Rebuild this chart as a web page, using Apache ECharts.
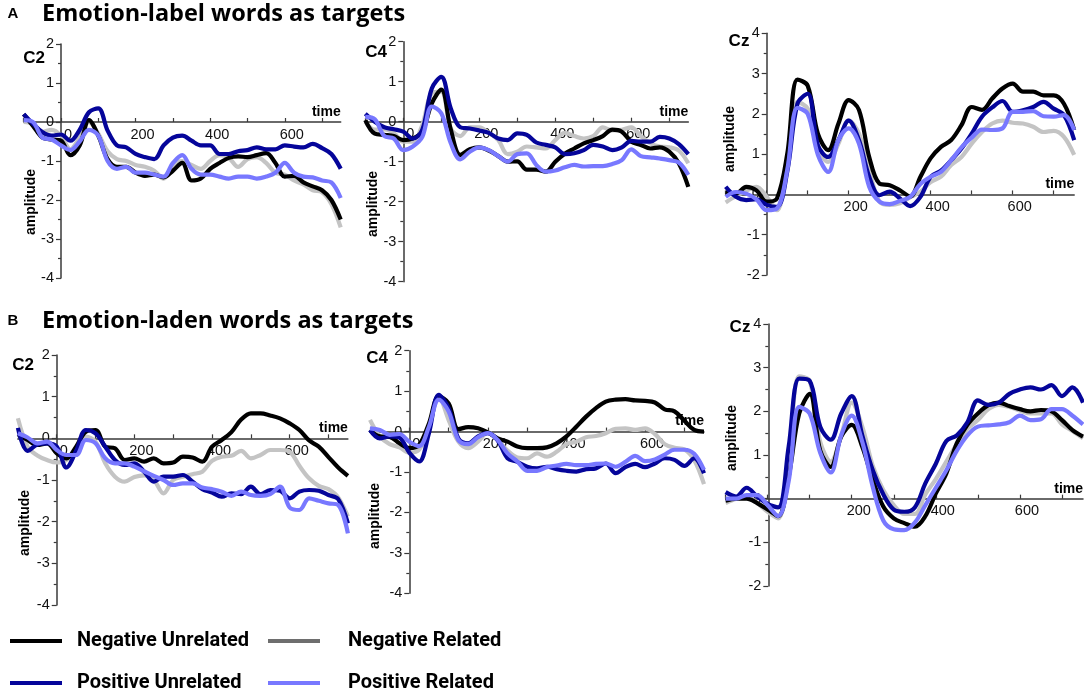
<!DOCTYPE html>
<html>
<head>
<meta charset="utf-8">
<title>ERP waveforms</title>
<script src="https://cdn.jsdelivr.net/npm/echarts@6/dist/echarts.min.js"></script>
<style>
    html, body { margin: 0; padding: 0; background: #fff; }
    #erp_waves { width: 1084px; height: 692px; }
</style>
</head>
<body>
<div id="erp_waves"></div>
<script>

// Data
// ------------------------------

// Time points (ms)
var times = [-100, -75, -50, -25, 0, 25, 50, 75, 100, 125, 150, 175, 200, 225, 250, 275, 300, 325,
    350, 375, 400, 425, 450, 475, 500, 525, 550, 575, 600, 625, 650, 675, 700, 725, 750];

var conditions = ['Negative Unrelated', 'Positive Unrelated', 'Negative Related', 'Positive Related'];

// A - emotion-label words, C2
var aC2NegUnrel = [0.2, -0.1, -0.4, -0.45, -0.48, -0.85, -0.6, 0.05, -0.35, -0.95, -1.15, -1.15, -1.3, -1.38, -1.35, -1.42, -1.25, -1.05, -1.5, -1.45, -1.2, -1.05, -0.92, -0.88, -0.9, -0.85, -0.8, -1.05, -1.4, -1.38, -1.55, -1.65, -1.75, -2.0, -2.5];
var aC2PosUnrel = [0.2, -0.05, -0.26, -0.35, -0.32, -0.48, -0.2, 0.25, 0.35, -0.22, -0.6, -0.65, -0.82, -0.9, -0.95, -0.6, -0.4, -0.35, -0.48, -0.6, -0.6, -0.82, -0.82, -0.75, -0.72, -0.65, -0.7, -0.7, -0.6, -0.63, -0.65, -0.56, -0.67, -0.82, -1.2];
var aC2NegRel = [0.0, -0.05, -0.25, -0.2, -0.35, -0.7, -0.4, 0.0, -0.3, -0.75, -0.95, -1.0, -1.1, -1.15, -1.25, -1.45, -1.1, -1.0, -1.1, -1.2, -1.0, -0.85, -0.92, -1.15, -0.95, -0.9, -1.05, -1.3, -1.35, -1.5, -1.6, -1.75, -1.8, -2.1, -2.7];
var aC2PosRel = [0.05, 0.0, -0.4, -0.45, -0.6, -0.72, -0.5, -0.2, -0.35, -1.0, -1.2, -1.15, -1.3, -1.3, -1.35, -1.4, -1.05, -0.85, -1.2, -1.35, -1.35, -1.4, -1.45, -1.4, -1.4, -1.45, -1.4, -1.3, -1.05, -1.3, -1.4, -1.42, -1.5, -1.55, -1.95];

// A - emotion-label words, C4
var aC4NegUnrel = [0.04, -0.3, -0.33, -0.36, -0.46, -0.42, -0.25, 0.46, 0.8, -0.2, -0.83, -0.69, -0.64, -0.72, -0.86, -1.0, -0.99, -1.2, -1.2, -1.25, -1.0, -0.8, -0.67, -0.54, -0.46, -0.36, -0.2, -0.25, -0.5, -0.58, -0.67, -0.64, -0.75, -1.04, -1.63];
var aC4PosUnrel = [0.2, 0.0, -0.14, -0.19, -0.25, -0.42, -0.2, 0.83, 1.12, 0.33, -0.14, -0.17, -0.22, -0.28, -0.42, -0.46, -0.29, -0.33, -0.52, -0.58, -0.64, -0.81, -0.79, -0.71, -0.58, -0.62, -0.71, -0.64, -0.48, -0.5, -0.5, -0.38, -0.42, -0.56, -0.81];
var aC4NegRel = [0.0, -0.2, -0.19, -0.28, -0.5, -0.5, -0.08, 0.71, 0.75, -0.17, -0.36, -0.14, -0.14, -0.28, -0.46, -0.81, -0.75, -0.62, -0.64, -0.67, -0.46, -0.28, -0.36, -0.42, -0.36, -0.14, -0.22, -0.2, -0.14, -0.36, -0.54, -0.62, -0.64, -0.72, -1.04];
var aC4PosRel = [0.12, 0.06, -0.36, -0.42, -0.71, -0.62, -0.38, 0.38, 0.21, -0.54, -0.94, -0.75, -0.64, -0.71, -0.86, -1.0, -0.81, -0.79, -1.08, -1.25, -1.22, -1.14, -1.08, -1.12, -1.11, -1.11, -1.06, -0.96, -0.69, -0.86, -0.89, -0.92, -0.96, -1.02, -1.33];

// A - emotion-label words, Cz
var aCzNegUnrel = [0.05, 0.02, 0.19, 0.1, -0.18, -0.1, 1.0, 2.85, 2.7, 1.5, 1.1, 1.76, 2.34, 2.1, 0.93, 0.27, 0.23, 0.1, -0.05, 0.44, 0.9, 1.18, 1.35, 1.72, 2.17, 2.1, 2.38, 2.63, 2.75, 2.55, 2.55, 2.46, 2.46, 2.25, 1.6];
var aCzPosUnrel = [0.19, -0.06, -0.14, -0.12, -0.26, -0.31, 0.56, 2.25, 2.5, 1.22, 0.93, 1.35, 1.83, 1.35, 0.44, -0.02, 0.07, -0.1, -0.29, -0.06, 0.44, 0.59, 0.85, 1.14, 1.51, 1.93, 2.16, 2.32, 2.05, 2.09, 2.17, 2.3, 2.13, 1.97, 1.35];
var aCzNegRel = [-0.2, -0.04, 0.09, 0.19, -0.06, -0.39, 0.77, 2.3, 2.13, 1.18, 0.81, 1.26, 1.84, 1.51, 0.6, -0.18, -0.26, -0.22, -0.07, 0.07, 0.31, 0.44, 0.73, 0.93, 1.26, 1.55, 1.76, 1.83, 1.78, 1.76, 1.68, 1.55, 1.58, 1.43, 0.98];
var aCzPosRel = [-0.06, 0.06, 0.02, -0.12, -0.39, -0.35, 0.6, 2.15, 2.0, 0.98, 0.56, 1.35, 1.64, 1.26, 0.19, -0.18, -0.24, -0.16, -0.06, 0.26, 0.44, 0.56, 0.85, 1.17, 1.41, 1.61, 1.6, 1.64, 2.05, 2.05, 2.07, 1.94, 1.93, 1.97, 1.6];

// B - emotion-laden words, C2
var bC2NegUnrel = [0.1, -0.04, -0.16, -0.12, -0.36, -0.48, -0.2, 0.16, 0.2, -0.2, -0.24, -0.52, -0.48, -0.56, -0.48, -0.6, -0.58, -0.44, -0.46, -0.56, -0.2, -0.04, 0.15, 0.45, 0.6, 0.6, 0.55, 0.48, 0.36, 0.2, -0.05, -0.2, -0.45, -0.7, -0.9];
var bC2PosUnrel = [0.25, -0.3, -0.15, -0.12, -0.2, -0.7, -0.3, 0.2, 0.12, -0.2, -0.52, -0.64, -0.6, -0.8, -1.04, -0.92, -0.92, -0.88, -1.04, -1.22, -1.3, -1.4, -1.32, -1.34, -1.16, -1.34, -1.24, -1.26, -1.44, -1.28, -1.24, -1.26, -1.36, -1.46, -2.04];
var bC2NegRel = [0.48, -0.2, -0.41, -0.52, -0.58, -0.52, -0.25, 0.04, -0.08, -0.6, -0.92, -1.04, -0.93, -0.89, -1.0, -1.32, -1.0, -0.92, -0.86, -0.8, -0.54, -0.44, -0.42, -0.3, -0.48, -0.4, -0.28, -0.28, -0.32, -0.66, -0.96, -1.14, -1.22, -1.42, -1.88];
var bC2PosRel = [0.12, 0.02, -0.12, -0.08, -0.28, -0.4, -0.4, -0.04, -0.12, -0.48, -0.6, -0.6, -0.68, -0.79, -0.9, -1.0, -1.12, -1.08, -1.08, -1.18, -1.22, -1.28, -1.38, -1.28, -1.36, -1.38, -1.34, -1.16, -1.66, -1.72, -1.44, -1.5, -1.56, -1.6, -2.28];

// B - emotion-laden words, C4
var bC4NegUnrel = [0.04, -0.12, -0.13, -0.29, -0.41, -0.33, 0.2, 0.87, 0.7, 0.06, 0.11, 0.08, -0.02, -0.17, -0.25, -0.37, -0.41, -0.41, -0.39, -0.29, -0.12, 0.12, 0.37, 0.58, 0.74, 0.79, 0.8, 0.77, 0.76, 0.72, 0.55, 0.5, 0.27, 0.04, 0.0];
var bC4PosUnrel = [0.04, -0.17, -0.12, -0.15, -0.52, -0.74, -0.04, 0.91, 0.58, -0.17, -0.29, -0.12, -0.04, -0.22, -0.66, -0.75, -0.87, -0.91, -0.87, -0.93, -0.97, -0.99, -0.93, -0.91, -0.79, -1.03, -0.88, -0.8, -0.88, -0.79, -0.66, -0.7, -0.85, -0.66, -1.03];
var bC4NegRel = [0.29, -0.12, -0.31, -0.39, -0.52, -0.45, 0.12, 0.87, 0.29, -0.25, -0.41, -0.25, -0.02, -0.21, -0.47, -0.64, -0.66, -0.54, -0.62, -0.5, -0.31, -0.25, -0.14, -0.11, -0.04, 0.07, 0.08, 0.04, 0.08, -0.06, -0.31, -0.4, -0.44, -0.7, -1.3];
var bC4PosRel = [0.08, 0.04, -0.08, -0.06, -0.25, -0.36, 0.12, 0.79, 0.5, -0.21, -0.31, -0.14, -0.04, -0.21, -0.54, -0.74, -0.97, -0.97, -0.88, -0.84, -0.8, -0.83, -0.83, -0.8, -0.79, -0.87, -0.75, -0.6, -0.73, -0.69, -0.57, -0.45, -0.45, -0.55, -0.95];

// B - emotion-laden words, Cz
var bCzNegUnrel = [-0.05, 0.0, 0.0, -0.1, -0.25, -0.4, 0.5, 1.95, 2.4, 1.1, 0.73, 1.42, 1.69, 1.19, 0.43, -0.18, -0.45, -0.56, -0.64, -0.4, 0.12, 0.58, 1.27, 1.69, 1.95, 2.14, 2.2, 2.12, 2.05, 2.0, 2.03, 2.0, 1.8, 1.57, 1.42];
var bCzPosUnrel = [0.15, 0.05, 0.25, 0.05, -0.12, -0.2, 1.19, 2.75, 2.7, 1.65, 1.35, 1.95, 2.35, 1.45, 0.65, 0.1, -0.25, -0.3, -0.2, 0.35, 0.8, 1.32, 1.45, 1.75, 2.25, 2.15, 2.2, 2.4, 2.5, 2.55, 2.5, 2.6, 2.35, 2.55, 2.2];
var bCzNegRel = [-0.1, 0.0, 0.05, -0.1, -0.3, -0.45, 0.8, 2.8, 2.7, 1.3, 0.85, 1.45, 2.2, 1.65, 0.75, 0.2, -0.15, -0.35, -0.35, 0.1, 0.45, 0.85, 1.25, 1.6, 1.8, 2.05, 2.15, 2.1, 2.02, 1.95, 1.95, 1.95, 1.7, 1.55, 1.38];
var bCzPosRel = [0.0, 0.0, 0.08, 0.08, -0.15, -0.4, 0.4, 2.1, 1.95, 1.05, 0.6, 1.45, 1.9, 1.3, 0.27, -0.5, -0.7, -0.72, -0.55, -0.15, 0.25, 0.65, 1.1, 1.45, 1.65, 1.68, 1.7, 1.75, 1.9, 1.8, 1.82, 2.05, 2.05, 1.9, 1.7];


// Setup module
// ------------------------------

var EchartsErpWaves = function() {

    var _erpWavesExample = function() {
        if (typeof echarts == 'undefined') {
            console.warn('Warning - echarts.min.js is not loaded.');
            return;
        }

        var erp_waves_element = document.getElementById('erp_waves');
        if (!erp_waves_element) {
            return;
        }

        var erp_waves = echarts.init(erp_waves_element);

        var tickFont = '"Liberation Sans", Arial, sans-serif';
        var headFont = '"Open Sans", Lato, Arial, sans-serif';
        var legendFont = 'Roboto, "Liberation Sans", Arial, sans-serif';
        var axisColor = '#3a3a3a';
        var tMin = -100, tMax = 750;

        var colors = {
            'Negative Unrelated': '#000000',
            'Positive Unrelated': '#05059a',
            'Negative Related': '#c4c4c4',
            'Positive Related': '#7878ff'
        };
        var layers = {
            'Negative Related': 2,
            'Negative Unrelated': 3,
            'Positive Unrelated': 4,
            'Positive Related': 5
        };

        // Panel layout
        var panels = [
            { title: 'C2', lines: [aC2NegUnrel, aC2PosUnrel, aC2NegRel, aC2PosRel], yMin: -4, yMax: 2, zeroLabel: true,
              grid: { left: 23.7, top: 44, width: 317, height: 234 }, titlePos: [34, 58], ampPos: [31, 202] },
            { title: 'C4', lines: [aC4NegUnrel, aC4PosUnrel, aC4NegRel, aC4PosRel], yMin: -4, yMax: 2, zeroLabel: true,
              grid: { left: 365.3, top: 41.7, width: 323, height: 240 }, titlePos: [376, 52], ampPos: [373, 204] },
            { title: 'Cz', lines: [aCzNegUnrel, aCzPosUnrel, aCzNegRel, aCzPosRel], yMin: -2, yMax: 4, zeroLabel: false,
              grid: { left: 725.7, top: 33.3, width: 348.5, height: 241.7 }, titlePos: [739, 41], ampPos: [730, 139] },
            { title: 'C2', lines: [bC2NegUnrel, bC2PosUnrel, bC2NegRel, bC2PosRel], yMin: -4, yMax: 2, zeroLabel: true,
              grid: { left: 17.9, top: 355, width: 330, height: 250 }, titlePos: [23, 365], ampPos: [25, 523] },
            { title: 'C4', lines: [bC4NegUnrel, bC4PosUnrel, bC4NegRel, bC4PosRel], yMin: -4, yMax: 2, zeroLabel: true,
              grid: { left: 370, top: 350.7, width: 334, height: 242.6 }, titlePos: [377, 358], ampPos: [375, 516] },
            { title: 'Cz', lines: [bCzNegUnrel, bCzPosUnrel, bCzNegRel, bCzPosRel], yMin: -2, yMax: 4, zeroLabel: false,
              grid: { left: 725.6, top: 324, width: 363, height: 262 }, titlePos: [740, 327], ampPos: [732, 438] }
        ];

        var grids = [], xAxes = [], yAxes = [], series = [], graphics = [];

        panels.forEach(function(p, i) {
            grids.push(p.grid);

            // Axes cross at (0 ms, 0 uV): shift them inside the grid by the scale fraction
            var xShift = -p.grid.height * (0 - p.yMin) / (p.yMax - p.yMin);
            var yShift = -p.grid.width * (0 - tMin) / (tMax - tMin);

            xAxes.push({
                type: 'value',
                gridIndex: i,
                position: 'bottom',
                offset: xShift,
                min: tMin,
                max: tMax,
                interval: 100,
                name: 'time',
                nameLocation: 'end',
                nameGap: 0,
                nameTextStyle: {
                    color: '#000',
                    fontFamily: tickFont,
                    fontWeight: 'bold',
                    fontSize: 14,
                    align: 'right',
                    verticalAlign: 'bottom',
                    padding: [0, 0, 3, 0]
                },
                axisLine: {
                    onZero: false,
                    lineStyle: { color: axisColor, width: 1.5 }
                },
                axisTick: {
                    inside: true,
                    length: 4,
                    lineStyle: { color: axisColor, width: 1.2 }
                },
                splitLine: { show: false },
                axisLabel: {
                    color: '#111',
                    fontFamily: tickFont,
                    fontSize: 14.5,
                    margin: 5,
                    padding: [0, 0, 0, 14],
                    showMaxLabel: false,
                    formatter: function(v) {
                        if (v === 200 || v === 400 || v === 600) return String(v);
                        if (v === 0 && p.zeroLabel) return '0';
                        return '';
                    }
                }
            });

            yAxes.push({
                type: 'value',
                gridIndex: i,
                position: 'left',
                offset: yShift,
                min: p.yMin,
                max: p.yMax,
                interval: 1,
                axisLine: {
                    show: true,
                    onZero: false,
                    lineStyle: { color: axisColor, width: 1.5 }
                },
                axisTick: {
                    show: true,
                    length: 5,
                    lineStyle: { color: axisColor, width: 1.2 }
                },
                minorTick: {
                    show: true,
                    splitNumber: 2,
                    length: 3,
                    lineStyle: { color: axisColor, width: 1.2 }
                },
                splitLine: { show: false },
                axisLabel: {
                    color: '#111',
                    fontFamily: tickFont,
                    fontSize: 14.5,
                    margin: 7
                }
            });

            conditions.forEach(function(name, k) {
                var vals = p.lines[k];
                series.push({
                    name: name,
                    type: 'line',
                    xAxisIndex: i,
                    yAxisIndex: i,
                    z: layers[name],
                    smooth: 0.35,
                    showSymbol: false,
                    silent: true,
                    lineStyle: { color: colors[name], width: 4.2 },
                    itemStyle: { color: colors[name] },
                    data: times.map(function(t, j) { return [t, vals[j]]; })
                });
            });

            // Electrode title
            graphics.push({
                type: 'text',
                x: p.titlePos[0],
                y: p.titlePos[1],
                style: {
                    text: p.title,
                    font: 'bold 17px ' + tickFont,
                    fill: '#000',
                    align: 'center',
                    verticalAlign: 'middle'
                }
            });

            // Amplitude label
            graphics.push({
                type: 'text',
                x: p.ampPos[0],
                y: p.ampPos[1],
                rotation: Math.PI / 2,
                style: {
                    text: 'amplitude',
                    font: 'bold 14px ' + tickFont,
                    fill: '#000',
                    align: 'center',
                    verticalAlign: 'middle'
                }
            });
        });

        // Section headers
        [['A', 'Emotion-label words as targets', 14], ['B', 'Emotion-laden words as targets', 321]].forEach(function(h) {
            graphics.push({
                type: 'text', x: 13, y: h[2],
                style: { text: h[0], font: 'bold 15px ' + tickFont, fill: '#000', align: 'center', verticalAlign: 'middle' }
            });
            graphics.push({
                type: 'text', x: 42, y: h[2],
                style: { text: h[1], font: 'bold 23.5px ' + headFont, fill: '#000', align: 'left', verticalAlign: 'middle' }
            });
        });

        // Legend blocks
        var legendBox = function(name, left, top, padLeft, iconColor) {
            var item = { name: name };
            if (iconColor) {
                item.itemStyle = { color: iconColor };
            }
            return {
                left: left,
                top: top,
                padding: 0,
                icon: 'rect',
                itemWidth: 52,
                itemHeight: 4,
                selectedMode: false,
                data: [item],
                textStyle: {
                    color: '#000',
                    fontFamily: legendFont,
                    fontWeight: 'bold',
                    fontSize: 20,
                    lineHeight: 26,
                    padding: [0, 0, 0, padLeft]
                }
            };
        };

        erp_waves.setOption({
            animation: false,
            textStyle: { fontFamily: tickFont },
            grid: grids,
            xAxis: xAxes,
            yAxis: yAxes,
            legend: [
                legendBox('Negative Unrelated', 10, 628, 10),
                legendBox('Negative Related', 268, 628, 23, '#6e6e6e'),
                legendBox('Positive Unrelated', 10, 670, 10),
                legendBox('Positive Related', 268, 670, 23)
            ],
            graphic: graphics,
            series: series
        });

        // Resize
        window.addEventListener('resize', function() {
            erp_waves.resize();
        });
    };

    return {
        init: function() {
            _erpWavesExample();
        }
    };
}();


// Initialize module
// ------------------------------

document.addEventListener('DOMContentLoaded', function() {
    EchartsErpWaves.init();
});
</script>
</body>
</html>
